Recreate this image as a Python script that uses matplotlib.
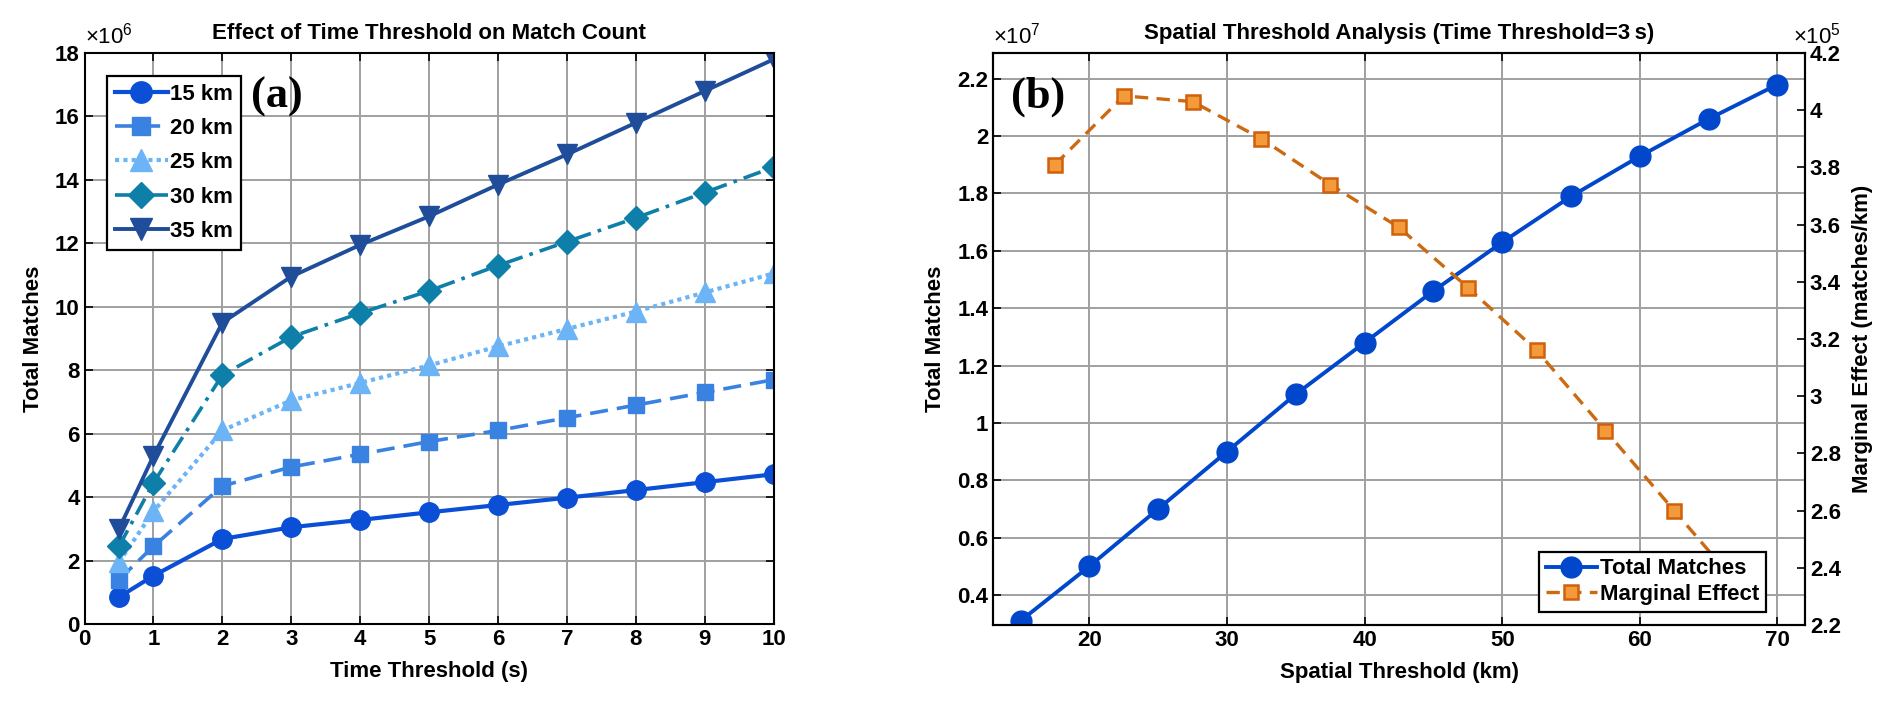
import numpy as np
import matplotlib
matplotlib.use("Agg")
import matplotlib.pyplot as plt
from matplotlib.ticker import FormatStrFormatter

plt.rcParams['font.family'] = ['Liberation Sans', 'DejaVu Sans']
plt.rcParams['font.weight'] = 'bold'
plt.rcParams['mathtext.fontset'] = 'custom'
plt.rcParams['mathtext.rm'] = 'Liberation Sans:weight=normal'
plt.rcParams['mathtext.default'] = 'rm'

# ---- panel (a) data (values in units of 1e6) ----
time_thr = [0.5, 1, 2, 3, 4, 5, 6, 7, 8, 9, 10]
m15 = [0.85, 1.52, 2.68, 3.05, 3.28, 3.52, 3.75, 3.98, 4.22, 4.47, 4.72]
m20 = [1.40, 2.45, 4.35, 4.95, 5.35, 5.75, 6.10, 6.50, 6.90, 7.30, 7.70]
m25 = [1.95, 3.55, 6.10, 7.05, 7.60, 8.15, 8.75, 9.30, 9.85, 10.45, 11.05]
m30 = [2.45, 4.45, 7.85, 9.05, 9.80, 10.50, 11.30, 12.05, 12.80, 13.60, 14.40]
m35 = [3.00, 5.30, 9.50, 10.95, 11.95, 12.85, 13.85, 14.80, 15.80, 16.80, 17.80]
dist_labels = ['15 km', '20 km', '25 km', '30 km', '35 km']

# ---- panel (b) data ----
spatial_thr = [15, 20, 25, 30, 35, 40, 45, 50, 55, 60, 65, 70]
total_matches = [0.31, 0.50, 0.70, 0.90, 1.10, 1.28, 1.46, 1.63, 1.79, 1.93, 2.06, 2.18]  # x1e7
mid_thr = [17.5, 22.5, 27.5, 32.5, 37.5, 42.5, 47.5, 52.5, 57.5, 62.5, 67.5]
marginal = [3.81, 4.05, 4.03, 3.90, 3.74, 3.59, 3.38, 3.16, 2.88, 2.60, 2.32]  # x1e5

FS = 16
grid_c = '#a0a0a0'

fig = plt.figure(figsize=(18.92, 7.11), dpi=100)
ax = fig.add_axes([0.0447, 0.1224, 0.3642, 0.8031])

styles = [
    dict(color='#0a4fd6', ls='-', marker='o', ms=14, lw=3.0),
    dict(color='#3a82e2', ls=(0, (5, 2.5)), marker='s', ms=12, lw=2.6),
    dict(color='#6cb4f5', ls=(0, (1, 1)), marker='^', ms=14, lw=3.0),
    dict(color='#0e7fa8', ls=(0, (5, 2, 1, 2)), marker='D', ms=12, lw=2.6),
    dict(color='#1f4d9a', ls='-', marker='v', ms=14, lw=2.8),
]
for ys, lab, st in zip([m15, m20, m25, m30, m35], dist_labels, styles):
    ax.plot(time_thr, ys, label=lab, markeredgecolor=st['color'], **st)

ax.set_xlim(0, 10)
ax.set_ylim(0, 18)
ax.set_xticks(range(0, 11))
ax.set_yticks(range(0, 19, 2))
ax.grid(True, color=grid_c, lw=1.4)
ax.set_axisbelow(True)
ax.tick_params(direction='in', top=True, right=True, labelsize=FS, length=6, width=1.2)
for sp in ax.spines.values():
    sp.set_linewidth(1.5)
ax.set_xlabel('Time Threshold (s)', fontsize=FS, fontweight='bold', labelpad=8)
ax.set_ylabel('Total Matches', fontsize=FS, fontweight='bold', labelpad=8)
ax.set_title('Effect of Time Threshold on Match Count', fontsize=FS, fontweight='bold', pad=10)
ax.text(0.0, 1.008, r'$\times10^{6}$', transform=ax.transAxes, fontsize=16,
        ha='left', va='bottom')
ax.text(0.242, 0.924, '(a)', transform=ax.transAxes, fontsize=32,
        fontweight='bold', family='Liberation Serif', va='center', ha='left')
leg = ax.legend(loc='upper left', bbox_to_anchor=(0.0325, 0.96), borderaxespad=0,
                fontsize=FS, handlelength=2.4, handletextpad=0.1, labelspacing=0.6,
                borderpad=0.35, fancybox=False, edgecolor='black', framealpha=1,
                markerscale=1.1)
leg.get_frame().set_linewidth(1.6)

# ---- panel (b) ----
bx = fig.add_axes([0.5249, 0.1209, 0.4291, 0.8046])
bx.plot(spatial_thr, total_matches, color='#0047cc', lw=2.8, marker='o', ms=15,
        label='Total Matches')
bx.set_xlim(13, 72)
bx.set_ylim(0.295, 2.29)
bx.set_xticks(range(20, 71, 10))
bx.set_yticks(np.arange(0.4, 2.21, 0.2))
bx.yaxis.set_major_formatter(FormatStrFormatter('%g'))
bx.grid(True, color=grid_c, lw=1.4)
bx.set_axisbelow(True)
bx.tick_params(direction='in', top=True, labelsize=FS, length=6, width=1.2)
bx.set_xlabel('Spatial Threshold (km)', fontsize=FS, fontweight='bold', labelpad=8)
bx.set_ylabel('Total Matches', fontsize=FS, fontweight='bold', labelpad=8)
bx.set_title('Spatial Threshold Analysis (Time Threshold=3\u2009s)', fontsize=FS,
             fontweight='bold', pad=10)
bx.text(0.0, 1.008, r'$\times10^{7}$', transform=bx.transAxes, fontsize=16,
        ha='left', va='bottom')
bx.text(0.022, 0.924, '(b)', transform=bx.transAxes, fontsize=32,
        fontweight='bold', family='Liberation Serif', va='center', ha='left')

bx2 = bx.twinx()
bx2.plot(mid_thr, marginal, color='#cc6a12', lw=2.4, ls=(0, (4, 2.5)), marker='s',
         ms=10, markerfacecolor='#f39a3a', markeredgecolor='#d0600c', mew=1.8,
         label='Marginal Effect')
bx2.set_ylim(2.2, 4.2)
bx2.set_yticks(np.arange(2.2, 4.21, 0.2))
bx2.yaxis.set_major_formatter(FormatStrFormatter('%g'))
bx2.tick_params(direction='in', labelsize=FS, length=6, width=1.2)
bx2.set_ylabel('Marginal Effect (matches/km)', fontsize=FS, fontweight='bold', labelpad=8)
bx2.text(0.985, 1.008, r'$\times10^{5}$', transform=bx2.transAxes, fontsize=16,
         ha='left', va='bottom')
for a in (bx, bx2):
    for sp in a.spines.values():
        sp.set_linewidth(1.5)

h1, l1 = bx.get_legend_handles_labels()
h2, l2 = bx2.get_legend_handles_labels()
leg2 = bx2.legend(h1 + h2, l1 + l2, loc='lower right', bbox_to_anchor=(0.952, 0.0236),
                  borderaxespad=0, fontsize=FS, handlelength=2.3, handletextpad=0.15,
                  labelspacing=0.2, borderpad=0.3, fancybox=False, edgecolor='black',
                  framealpha=1)
leg2.get_frame().set_linewidth(1.6)

fig.savefig('out.png', dpi=100)
